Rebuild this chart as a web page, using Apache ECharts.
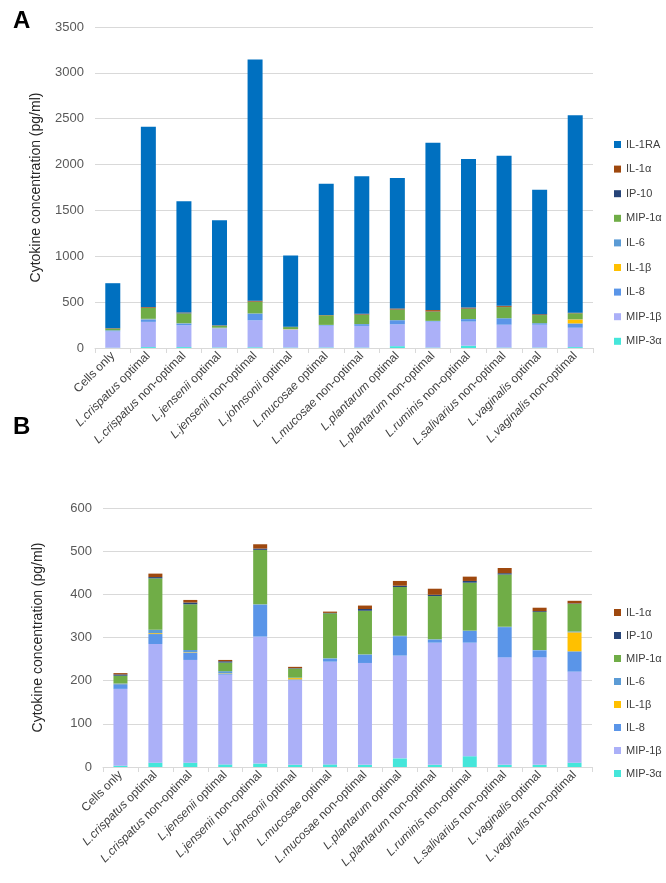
<!DOCTYPE html>
<html><head><meta charset="utf-8">
<script src="https://cdn.jsdelivr.net/npm/echarts@6/dist/echarts.min.js"></script>
<style>html,body{margin:0;padding:0;background:#fff}#c{width:666px;height:883px}</style>
</head><body><div id="c"></div>
<script>
const categories = ["Cells only","L.crispatus optimal","L.crispatus non-optimal","L.jensenii optimal","L.jensenii non-optimal","L.johnsonii optimal","L.mucosae optimal","L.mucosae non-optimal","L.plantarum optimal","L.plantarum non-optimal","L.ruminis non-optimal","L.salivarius non-optimal","L.vaginalis optimal","L.vaginalis non-optimal"];
const MIP3a = [3,10,10,6,8,5,6,5,20,5,25,5,5,10];
const MIP1b = [178,275,238,208,294,196,238,236,238,283,263,249,249,211];
const IL8   = [11,23,17,2,74,2,7,19,45,7,27,70,16,47];
const IL1b  = [0.5,2,1,1,0,3,0,0,0,0,0,0,0,44];
const IL6   = [1,8,5,5,1,1,1,1,1,1,1,1,1,2];
const MIP1a = [18,119,106,20,126,21,104,101,113,100,111,121,88,64];
const IP10  = [3,3,4,3,3,1,1,4,3,3,4,3,2,1];
const IL1a  = [3,8,6,3,10,3,3,8,11,14,10,12,8,6];
const IL1RA = [489,1964,1213,1145,2629,776,1432,1498,1422,1825,1619,1635,1357,2154];
const ticksA = [0,500,1000,1500,2000,2500,3000,3500];
const ticksB = [0,100,200,300,400,500,600];

const seriesDefs = [
  ["MIP-3\u03b1", MIP3a, "#45E6DA"],
  ["MIP-1\u03b2", MIP1b, "#ABB0F8"],
  ["IL-8", IL8, "#5A95E8"],
  ["IL-1\u03b2", IL1b, "#FFC000"],
  ["IL-6", IL6, "#5B9BD5"],
  ["MIP-1\u03b1", MIP1a, "#70AD47"],
  ["IP-10", IP10, "#264478"],
  ["IL-1\u03b1", IL1a, "#9E480E"],
  ["IL-1RA", IL1RA, "#0070C0"]
];

const FONT = 'Liberation Sans, Arial, sans-serif';
const chart = echarts.init(document.getElementById('c'), null, {renderer:'canvas'});
function xAxisFor(gi){
  return {type:'category', gridIndex:gi, data:categories,
    axisLine:{lineStyle:{color:'#d9d9d9'}},
    axisTick:{show:true, alignWithLabel:false, length:5, lineStyle:{color:'#d9d9d9'}},
    axisLabel:{interval:0, rotate:45, margin:6, color:'#404040', fontFamily:FONT, fontSize:12,
      formatter:function(v){ if(v.indexOf('L.')===0){ const i=v.indexOf(' '); return '{i|'+v.slice(0,i)+'} {n|'+v.slice(i+1)+'}'; } return '{n|'+v+'}'; },
      rich:{i:{fontStyle:'italic', color:'#404040', fontSize:12, fontFamily:FONT}, n:{color:'#404040', fontSize:12, fontFamily:FONT}}}
  };
}
function yAxisFor(gi, ticks, gap){
  return {type:'value', gridIndex:gi, min:ticks[0], max:ticks[ticks.length-1], interval:ticks[1]-ticks[0],
    name:'Cytokine concentration (pg/ml)', nameLocation:'middle', nameGap:gap,
    nameTextStyle:{color:'#262626', fontSize:14, fontFamily:FONT},
    axisLine:{show:false}, axisTick:{show:false},
    axisLabel:{color:'#595959', fontSize:13, margin:11, fontFamily:FONT, formatter:function(v){return String(v);}},
    splitLine:{lineStyle:{color:'#d9d9d9', width:1}}};
}
const series = [];
seriesDefs.forEach(function(d){
  series.push({name:d[0], type:'bar', stack:'a', xAxisIndex:0, yAxisIndex:0, data:d[1], barWidth:15, itemStyle:{color:d[2]}, animation:false});
});
seriesDefs.slice(0,8).forEach(function(d){
  series.push({name:d[0], type:'bar', stack:'b', xAxisIndex:1, yAxisIndex:1, data:d[1], barWidth:14, itemStyle:{color:d[2]}, animation:false});
});
const legA = seriesDefs.map(d=>d[0]).reverse();
const legB = seriesDefs.slice(0,8).map(d=>d[0]).reverse();
const legCommon = {orient:'vertical', itemWidth:7, itemHeight:7, icon:'rect', textStyle:{color:'#404040', fontSize:11, fontFamily:FONT}, selectedMode:false, padding:0};
chart.setOption({
  animation:false,
  title:[
    {text:'A', left:8, top:4, textStyle:{fontSize:24, fontWeight:'bold', color:'#000', fontFamily:FONT}},
    {text:'B', left:8, top:410, textStyle:{fontSize:24, fontWeight:'bold', color:'#000', fontFamily:FONT}}
  ],
  grid:[
    {left:95, right:73, top:27, height:321},
    {left:103, right:74, top:508, height:259}
  ],
  xAxis:[xAxisFor(0), xAxisFor(1)],
  yAxis:[yAxisFor(0, ticksA, 52), yAxisFor(1, ticksB, 58)],
  legend:[
    Object.assign({}, legCommon, {left:614, top:139, itemGap:13.6, data:legA}),
    Object.assign({}, legCommon, {left:614, top:607, itemGap:12, data:legB})
  ],
  series:series
});
</script></body></html>
